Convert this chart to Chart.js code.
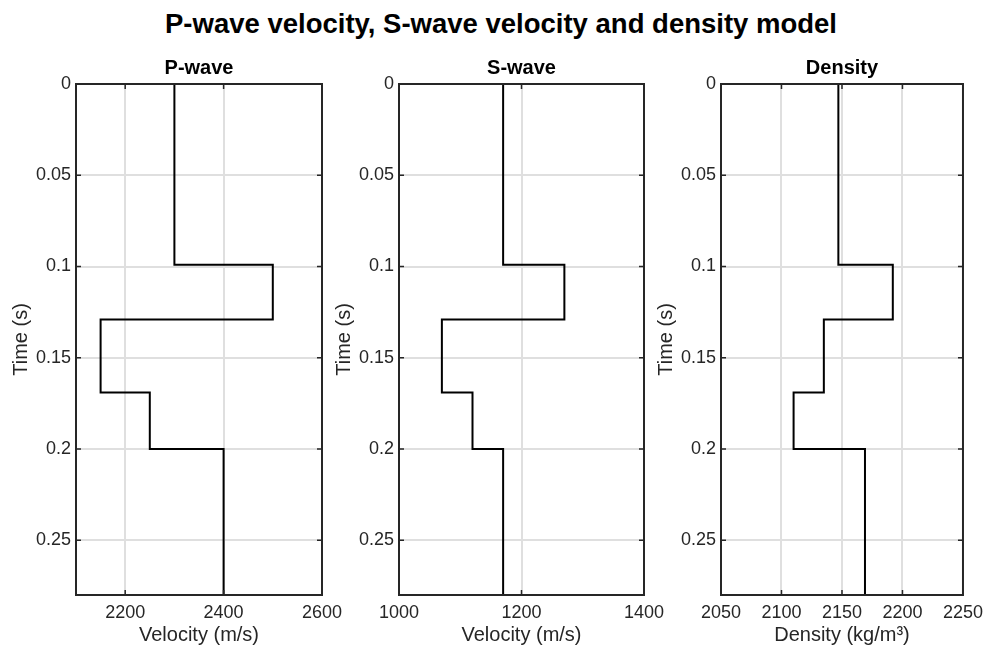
<!DOCTYPE html>
<html>
<head>
<meta charset="utf-8">
<script src="https://cdn.jsdelivr.net/npm/chart.js@4.4.1/dist/chart.umd.min.js"></script>
<style>
html,body{margin:0;padding:0;background:#fff;}
#wrap{position:relative;width:990px;height:656px;overflow:hidden;background:#fff;}
#wrap canvas{position:absolute;left:0;top:0;}
#title{position:absolute;left:6px;width:990px;top:9.7px;text-align:center;font-family:"Liberation Sans",Arial,sans-serif;font-weight:bold;font-size:27.5px;line-height:27.5px;color:#000;white-space:nowrap;}
</style>
</head>
<body>
<div id="wrap">
  <div id="title">P-wave velocity, S-wave velocity and density model</div>
  <canvas id="c1" width="990" height="656"></canvas>
  <canvas id="c2" width="990" height="656"></canvas>
  <canvas id="c3" width="990" height="656"></canvas>
</div>
<script>
// ---- data ----
const layerTop = [0, 0.099, 0.129, 0.169, 0.2];   // s, top of each layer
const timeEnd = 0.28;                              // s, bottom of model
const vp = [2300, 2500, 2150, 2250, 2400];         // m/s
const vs = [1170, 1270, 1070, 1120, 1170];         // m/s
const rho = [2147, 2192, 2135, 2110, 2169];        // kg/m^3

const yTicks = [0, 0.05, 0.1, 0.15, 0.2, 0.25];
const yTickLabels = ['0', '0.05', '0.1', '0.15', '0.2', '0.25'];

const vpTicks = [2200, 2400, 2600];
const vpTickLabels = ['2200', '2400', '2600'];
const vsTicks = [1000, 1200, 1400];
const vsTickLabels = ['1000', '1200', '1400'];
const rhoTicks = [2050, 2100, 2150, 2200, 2250];
const rhoTickLabels = ['2050', '2100', '2150', '2200', '2250'];

const FONT = '"Liberation Sans", Arial, Helvetica, sans-serif';
const AX = '#262626';

function stepPoints(vals) {
  const pts = vals.map((v, i) => ({x: v, y: layerTop[i]}));
  pts.push({x: vals[vals.length - 1], y: timeEnd});
  return pts;
}

const boxPlugin = {
  id: 'matlabBox',
  afterDraw(chart) {
    const {ctx, chartArea: a, scales} = chart;
    const tl = 5;
    ctx.save();
    ctx.strokeStyle = AX;
    ctx.lineWidth = 1.5;
    ctx.beginPath();
    scales.x.ticks.forEach(t => {
      const px = scales.x.getPixelForValue(t.value);
      ctx.moveTo(px, a.bottom); ctx.lineTo(px, a.bottom - tl);
      ctx.moveTo(px, a.top); ctx.lineTo(px, a.top + tl);
    });
    scales.y.ticks.forEach(t => {
      const py = scales.y.getPixelForValue(t.value);
      ctx.moveTo(a.left, py); ctx.lineTo(a.left + tl, py);
      ctx.moveTo(a.right, py); ctx.lineTo(a.right - tl, py);
    });
    ctx.stroke();
    ctx.lineWidth = 2;
    ctx.strokeRect(a.left, a.top, a.right - a.left, a.bottom - a.top);
    ctx.restore();
  }
};

function makeChart(id, vals, xMin, xMax, xTicks, xTickLabels, title, xTitle, padL, padR) {
  return new Chart(document.getElementById(id), {
    type: 'scatter',
    data: {
      datasets: [{
        data: stepPoints(vals),
        showLine: true,
        stepped: 'after',
        borderColor: '#000',
        borderWidth: 2,
        pointRadius: 0,
        fill: false
      }]
    },
    options: {
      responsive: false,
      animation: false,
      events: [],
      layout: {padding: {left: padL, right: padR, top: 0, bottom: 0}},
      plugins: {
        legend: {display: false},
        tooltip: {enabled: false},
        title: {
          display: true,
          text: title,
          fullSize: false,
          color: '#000',
          font: {family: FONT, size: 20, weight: 'bold', lineHeight: 1.2},
          padding: {top: 56, bottom: 4}
        }
      },
      scales: {
        x: {
          type: 'linear',
          min: xMin, max: xMax,
          afterBuildTicks: s => { s.ticks = xTicks.map(v => ({value: v})); },
          afterFit: s => { s.height = 61; },
          ticks: {
            callback: (v, i) => xTickLabels[i],
            autoSkip: false, maxRotation: 0,
            padding: 7,
            color: AX,
            font: {family: FONT, size: 18}
          },
          grid: {color: '#dfdfdf', lineWidth: 2, drawTicks: false},
          border: {display: false},
          title: {
            display: true, text: xTitle, color: AX,
            font: {family: FONT, size: 20},
            padding: {top: 0, bottom: 9}
          }
        },
        y: {
          type: 'linear',
          reverse: true,
          min: 0, max: timeEnd,
          afterBuildTicks: s => { s.ticks = yTicks.map(v => ({value: v})); },
          afterFit: s => { s.width = 67; },
          ticks: {
            callback: (v, i) => yTickLabels[i],
            autoSkip: false,
            padding: 5,
            color: AX,
            font: {family: FONT, size: 18}
          },
          grid: {color: '#dfdfdf', lineWidth: 2, drawTicks: false},
          border: {display: false},
          title: {
            display: true, text: 'Time (s)', color: AX,
            font: {family: FONT, size: 20},
            padding: {top: 0, bottom: 0}
          }
        }
      }
    },
    plugins: [boxPlugin]
  });
}

makeChart('c1', vp, 2100, 2600, vpTicks, vpTickLabels, 'P-wave', 'Velocity (m/s)', 9, 668);
makeChart('c2', vs, 1000, 1400, vsTicks, vsTickLabels, 'S-wave', 'Velocity (m/s)', 332, 346);
makeChart('c3', rho, 2050, 2250, rhoTicks, rhoTickLabels, 'Density', 'Density (kg/m\u00B3)', 654, 24);
</script>
</body>
</html>
